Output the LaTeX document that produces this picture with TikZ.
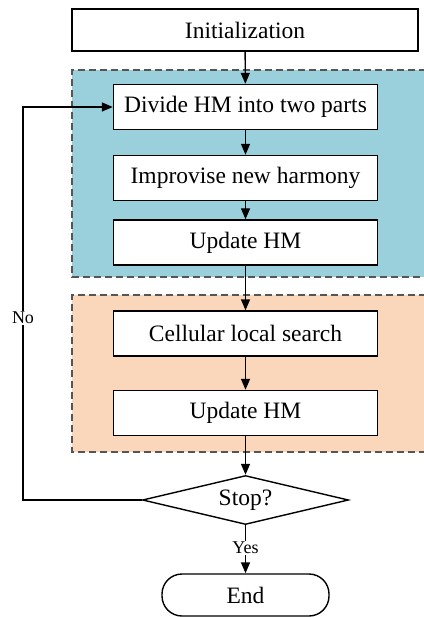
\documentclass[tikz,border=0pt]{standalone}
\usepackage{fontspec}
\setmainfont{Liberation Serif}
\usetikzlibrary{shapes.geometric,arrows.meta}
\definecolor{bluebg}{RGB}{153,208,220}
\definecolor{orangebg}{RGB}{250,215,186}
\definecolor{dashgrey}{RGB}{85,85,85}
\tikzset{
  box/.style={draw,line width=1.4pt,fill=white,minimum width=264pt,minimum height=45pt,inner sep=0pt,font=\fontsize{23.5}{27}\selectfont},
  region/.style={draw=dashgrey,line width=1.2pt,dash pattern=on 7pt off 4pt},
  arr/.style={-{Triangle[length=11pt,width=9pt]},line width=1.4pt},
  lbl/.style={font=\fontsize{18}{20}\selectfont,fill=white,inner sep=1pt}
}
\begin{document}
\begin{tikzpicture}[x=1pt,y=-1pt]
\useasboundingbox (0,0) rectangle (423,617);
% regions
\fill[bluebg] (72,70) rectangle (426,277);
\draw[region] (426,70) -- (72,70) -- (72,277) -- (426,277);
\fill[orangebg] (72,295) rectangle (426,452);
\draw[region] (426,295) -- (72,295) -- (72,452) -- (426,452);
% nodes
\node[box,minimum width=346pt,minimum height=42pt] (init) at (245,30) {Initialization};
\node[box] (divide) at (245.5,107) {Divide HM into two parts};
\node[box] (impro) at (245.5,178) {Improvise new harmony};
\node[box] (upd1) at (245.5,242.5) {Update HM};
\node[box] (cell) at (245.5,333.5) {Cellular local search};
\node[box] (upd2) at (245.5,413) {Update HM};
\node[draw,diamond,line width=1.4pt,fill=white,minimum width=206pt,minimum height=49pt,inner sep=0pt,aspect=4.2,font=\fontsize{23.5}{27}\selectfont] (stop) at (245.5,500) {Stop?};
\node[draw,line width=1.4pt,rounded corners=20pt,minimum width=167pt,minimum height=42pt,inner sep=0pt,font=\fontsize{23.5}{27}\selectfont] (end) at (245.5,595) {End};
\coordinate (lb) at (23,500);
\coordinate (lt) at (23,107);
% connectors
\draw[arr] (init) -- (divide);
\draw[arr] (divide) -- (impro);
\draw[arr] (impro) -- (upd1);
\draw[arr] (upd1) -- (cell);
\draw[arr] (cell) -- (upd2);
\draw[arr] (upd2) -- (stop);
\draw[arr] (stop) -- node[lbl,pos=0.47] (yes) {Yes} (end);
\draw[arr] (stop.west) -- (lb) -- node[lbl,pos=0.463] (no) {No} (lt) -- (divide.west);
\end{tikzpicture}
\end{document}
